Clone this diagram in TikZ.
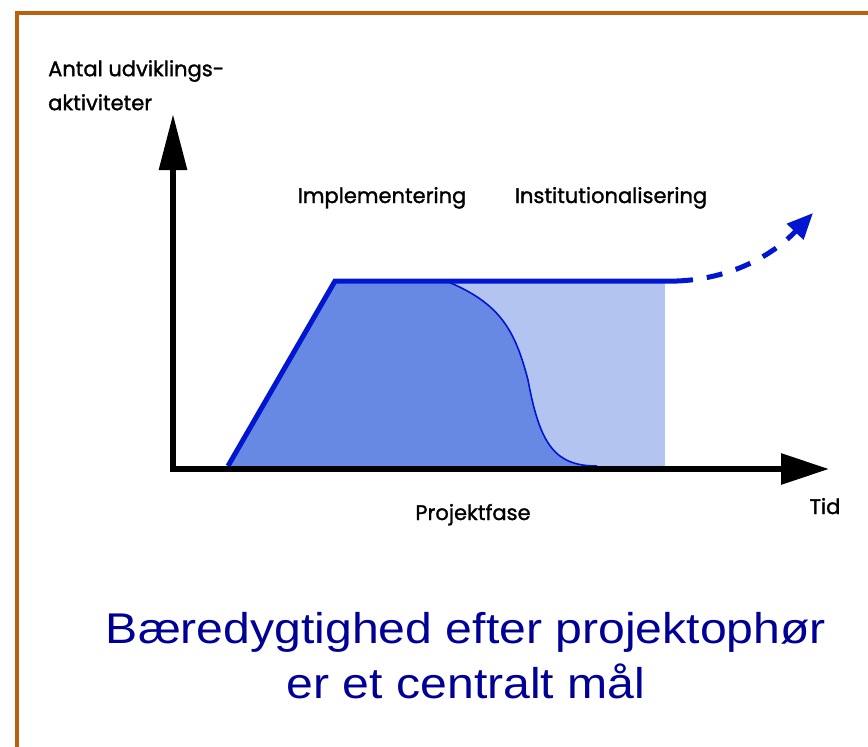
\documentclass[tikz,border=0pt]{standalone}
\usepackage{fontspec}
\setmainfont{Poppins}
\newfontfamily\labelfont{Poppins}[FakeBold=1.4]
\newfontfamily\titlefont{Liberation Sans}
\usetikzlibrary{arrows.meta, positioning}
\definecolor{framebrown}{RGB}{184,98,16}
\definecolor{lineblue}{RGB}{0,22,208}
\definecolor{darkfill}{RGB}{104,137,227}
\definecolor{lightfill}{RGB}{180,196,240}
\definecolor{titleblue}{RGB}{0,0,150}
\tikzstyle{axis} = [line width=6pt, black]
\tikzstyle{label} = [inner sep=0pt, font=\labelfont\fontsize{21}{34}\selectfont]
\tikzstyle{curveline} = [line width=5pt, lineblue]
\tikzstyle{title} = [inner sep=0pt, align=center, text=titleblue, xscale=1.12, font=\titlefont\fontsize{43}{55}\selectfont]

\begin{document}
\begin{tikzpicture}[x=1pt, y=-1pt]
\useasboundingbox (0,0) rectangle (868,747);

% frame
\draw [framebrown, line width=4.5pt] (17,747) -- (17,13) -- (868,13);

% coordinates
\coordinate (origin) at (173,469);
\coordinate (ytop) at (173,114);
\coordinate (xend) at (829,469);
\coordinate (rampstart) at (228,466);
\coordinate (ramptop) at (335,281);
\coordinate (dropstart) at (446,281);
\coordinate (dropend) at (597,466);
\coordinate (plateauend) at (677,281);
\coordinate (outlook) at (813,213);

% areas
\fill [lightfill] (dropstart) rectangle (665,466);
\fill [darkfill] (rampstart) -- (ramptop) -- (dropstart)
  .. controls (500,303) and (515,330) .. (528,380)
  .. controls (540,445) and (555,466) .. (dropend) -- cycle;
\draw [lineblue, line width=1.6pt] (dropstart)
  .. controls (500,303) and (515,330) .. (528,380)
  .. controls (540,445) and (555,466) .. (dropend);
\draw [curveline, line join=miter] (rampstart) -- (ramptop) -- (plateauend);
\draw [curveline, dash pattern=on 16pt off 14pt, -{Triangle[length=26pt, width=22pt]}]
  (plateauend) .. controls (730,279) and (772,256) .. (outlook);

% axes
\draw [axis, -{Triangle[length=56pt, width=27pt]}] (origin) -- (ytop);
\draw [axis, -{Triangle[length=48pt, width=30pt]}] ([xshift=-3pt]origin) -- (xend);

% labels
\node (ylabel) [label, anchor=north west, align=left] at (48,60) {Antal udviklings-\\aktiviteter};
\node (implabel) [label, anchor=base] at (382,203) {Implementering};
\node (instlabel) [label, anchor=base] at (611,203) {Institutionalisering};
\node (xlabel) [label, anchor=base] at (473,520) {Projektfase};
\node (tidlabel) [label, anchor=base] at (825,514) {Tid};

\node (title) [title, anchor=base] at (466,698) {Bæredygtighed efter projektophør\\er et centralt mål};

\end{tikzpicture}
\end{document}
